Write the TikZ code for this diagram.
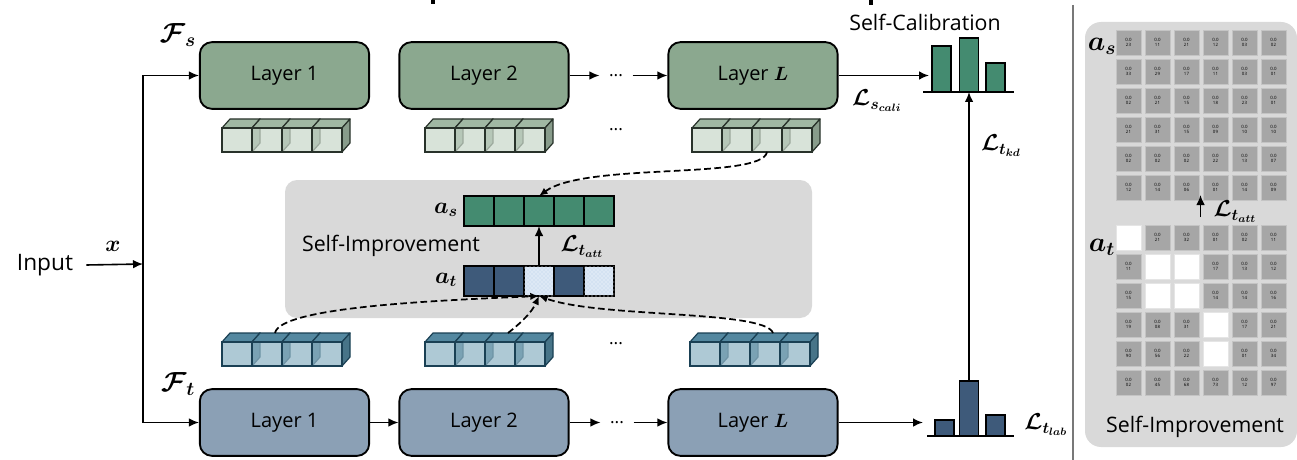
\documentclass[tikz,border=0pt]{standalone}
\usepackage{fontspec}
\setmainfont{Open Sans}
\usepackage{amsmath}
\usepackage{bm}
\usetikzlibrary{arrows.meta,patterns}
\definecolor{sgreen}{RGB}{139,168,143}
\definecolor{tblue}{RGB}{139,160,181}
\definecolor{scube}{RGB}{201,216,202}
\definecolor{scubeside}{RGB}{160,184,163}
\definecolor{sborder}{RGB}{40,50,42}
\definecolor{tcube}{RGB}{143,180,197}
\definecolor{tcubeside}{RGB}{84,136,160}
\definecolor{tborder}{RGB}{26,64,84}
\definecolor{asgreen}{RGB}{68,139,112}
\definecolor{atdark}{RGB}{62,90,122}
\definecolor{atlight}{RGB}{212,226,242}
\definecolor{panel}{RGB}{217,217,217}
\definecolor{cellgray}{RGB}{166,166,166}
\definecolor{cellline}{RGB}{196,196,196}
\definecolor{sepgray}{RGB}{120,120,120}
\newcommand\cubeset[5]{%
  \foreach \i in {0,...,3}{%
    \pgfmathsetmacro\xx{#1+30*\i}%
    \filldraw[fill=#4,draw=#5,line width=0.9pt,line join=round] (\xx,#2)--(\xx+8,#2-9)--(\xx+38,#2-9)--(\xx+30,#2)--cycle;
    \filldraw[fill=#4!85!black,draw=#5,line width=0.9pt,line join=round] (\xx+30,#2)--(\xx+38,#2-9)--(\xx+38,#2+15)--(\xx+30,#2+24)--cycle;
    \filldraw[fill=#3,fill opacity=0.72,draw=#5,line width=0.9pt] (\xx,#2) rectangle (\xx+30,#2+24);
  }}
\begin{document}
\begin{tikzpicture}[x=0.75pt,y=-0.75pt,
  layerS/.style={draw=black,line width=1.4pt,rounded corners=9pt,fill=sgreen,minimum width=127pt,minimum height=50pt,inner sep=0pt,font=\fontsize{15}{18}\selectfont},
  layerT/.style={layerS,fill=tblue},
  arr/.style={-{Latex[length=7.5pt,width=6.5pt]},line width=1.2pt},
  dsh/.style={dash pattern=on 5pt off 2.6pt,line width=1.3pt,-{Latex[length=6.5pt,width=5.5pt]}},
  lbl/.style={font=\fontsize{16}{18}\selectfont,inner sep=0pt},
  mlbl/.style={font=\fontsize{17}{19}\selectfont,inner sep=0pt},
  bigm/.style={font=\fontsize{20}{22}\selectfont,inner sep=0pt},
  dotsn/.style={font=\fontsize{13}{14}\selectfont,inner ysep=1pt,inner xsep=7pt},
  acell/.style={draw=black,line width=1.1pt,minimum width=22.5pt,minimum height=22.5pt,inner sep=0pt,outer sep=0pt},
  gcell/.style={fill=cellgray,draw=cellline,line width=0.4pt,minimum width=18.75pt,minimum height=18.75pt,inner sep=0pt,align=center,font=\fontsize{3.3}{3.8}\selectfont},
  wcell/.style={fill=white,draw=white!90!black,line width=0.4pt,minimum width=18.75pt,minimum height=18.75pt,inner sep=0pt}
]
\useasboundingbox (0,0) rectangle (1297,460);
% title fragments cut off at the top
\fill (431,0) rectangle (435,4);
\fill (869,0) rectangle (873,5);

% ---------- middle gray box ----------
\fill[panel,rounded corners=9pt] (285,180) rectangle (812,318);

% ---------- student row ----------
\node[layerS] (sL1) at (284.5,75.5) {Layer 1};
\node[layerS] (sL2) at (484,75.5) {Layer 2};
\node[layerS] (sLL) at (753,75.5) {Layer $\bm{L}$};
\node[dotsn] (sdots) at (616,75.5) {...};
\draw[arr] (sL2.east) -- (sdots.west);
\draw[arr] (sdots.east) -- (sLL.west);
\node[bigm] (Fs) at (178,35) {$\bm{\mathcal{F}_s}$};

\cubeset{222}{128}{scube}{scubeside}{sborder}
\cubeset{425}{128}{scube}{scubeside}{sborder}
\cubeset{692}{128}{scube}{scubeside}{sborder}
\node[dotsn] (scdots) at (616,130) {...};
\coordinate (sc3) at (767,152);

% ---------- teacher row ----------
\node[layerT] (tL1) at (284.5,422.5) {Layer 1};
\node[layerT] (tL2) at (484,422.5) {Layer 2};
\node[layerT] (tLL) at (753,422.5) {Layer $\bm{L}$};
\node[dotsn] (tdots) at (617,422.5) {...};
\draw[arr] (tL1.east) -- (tL2.west);
\draw[arr] (tL2.east) -- (tdots.west);
\draw[arr] (tdots.east) -- (tLL.west);
\node[bigm] (Ft) at (178,384) {$\bm{\mathcal{F}_t}$};

\cubeset{222}{342}{tcube}{tcubeside}{tborder}
\cubeset{425}{342}{tcube}{tcubeside}{tborder}
\cubeset{690}{342}{tcube}{tcubeside}{tborder}
\node[dotsn] (tcdots) at (616,344) {...};
\coordinate (tc1) at (275,333);
\coordinate (tc2) at (508,333);
\coordinate (tc3) at (773,333);

% ---------- input ----------
\node[lbl,font=\fontsize{17}{19}\selectfont] (inp) at (45,265) {Input};
\coordinate (split) at (143,264);
\node[mlbl] (xl) at (113,246) {$\bm{x}$};
\draw[arr] (inp.east)+(13,0) -- (split);
\draw[arr] (split) |- (sL1.west);
\draw[arr] (split) |- (tL1.west);

% ---------- self-improvement (middle) ----------
\foreach \k in {1,...,5}{
  \node[acell,fill=asgreen] (as\k) at (449+30*\k,211) {};
}
\node[acell,fill=atdark] (at1) at (479,281) {};
\node[acell,fill=atdark] (at2) at (509,281) {};
\node[acell,fill=atlight,postaction={pattern=crosshatch dots,pattern color=white}] (at3) at (539,281) {};
\node[acell,fill=atdark] (at4) at (569,281) {};
\node[acell,fill=atlight,postaction={pattern=crosshatch dots,pattern color=white}] (at5) at (599,281) {};
\node[mlbl] (asl) at (446,210) {$\bm{a_s}$};
\node[mlbl] (atl) at (446,280) {$\bm{a_t}$};
\node[lbl] (simid) at (391,246) {Self-Improvement};
\draw[arr] (at3.north) -- (as3.south);
\node[mlbl] (latt) at (582,247) {$\bm{\mathcal{L}_{t_{att}}}$};

\draw[dsh] (sc3) .. controls (762,180) and (585,162) .. (as3.north);
\draw[dsh] (tc1) .. controls (280,306) and (450,300) .. (at3.south);
\draw[dsh] (tc2) .. controls (522,322) and (532,312) .. (at3.south);
\draw[dsh] (tc3) .. controls (765,310) and (600,318) .. (at3.south);

% ---------- self-calibration histogram ----------
\node[lbl] (scal) at (925,22) {Self-Calibration};
\filldraw[fill=asgreen,draw=black,line width=1.1pt] (932,92) rectangle (951,46);
\filldraw[fill=asgreen,draw=black,line width=1.1pt] (959.5,92) rectangle (978.5,38);
\filldraw[fill=asgreen,draw=black,line width=1.1pt] (986,92) rectangle (1005,63);
\draw[line width=1.2pt] (923,92) -- (1014,92);
\coordinate (hT) at (969,92);
\coordinate (hTw) at (929,75.5);
\draw[arr] (sLL.east) -- (hTw);
\node[mlbl] (lcali) at (877,101) {$\bm{\mathcal{L}_{s_{cali}}}$};

\filldraw[fill=atdark,draw=black,line width=1.1pt] (935,436) rectangle (954,420);
\filldraw[fill=atdark,draw=black,line width=1.1pt] (959.5,436) rectangle (978.5,381);
\filldraw[fill=atdark,draw=black,line width=1.1pt] (986,436) rectangle (1005,415);
\draw[line width=1.2pt] (927,436) -- (1014,436);
\coordinate (hB) at (969,381);
\coordinate (hBw) at (923,422.5);
\draw[arr] (tLL.east) -- (hBw);
\draw[arr] (hB) -- (hT);
\node[mlbl] (lkd) at (1001,146) {$\bm{\mathcal{L}_{t_{kd}}}$};
\node[mlbl] (llab) at (1046,425) {$\bm{\mathcal{L}_{t_{lab}}}$};

% ---------- right panel ----------
\draw[sepgray,line width=1.5pt] (1073,5) -- (1073,460);
\fill[panel,rounded corners=12pt] (1085,22) rectangle (1297,447);
\def\xxmark{xx}
\foreach \r/\vals in {0/{23,11,21,12,03,02},1/{33,29,17,11,03,01},2/{02,21,15,18,23,01},3/{21,31,15,09,10,10},4/{02,02,02,22,13,07},5/{12,14,06,01,14,09}}{
  \foreach \v [count=\c from 0] in \vals {
    \node[gcell] (gs-\r-\c) at (1128.5+29*\c,42.5+29*\r) {0.0\\\v};
  }
}
\foreach \r/\vals in {0/{xx,21,32,01,02,11},1/{11,xx,xx,17,13,12},2/{15,xx,xx,14,14,16},3/{19,08,31,xx,17,21},4/{90,56,22,xx,01,34},5/{02,45,68,73,12,97}}{
  \foreach \v [count=\c from 0] in \vals {
    \ifx\v\xxmark
      \node[wcell] (gt-\r-\c) at (1128.5+29*\c,237.5+29*\r) {};
    \else
      \node[gcell] (gt-\r-\c) at (1128.5+29*\c,237.5+29*\r) {0.0\\\v};
    \fi
  }
}
\node[bigm] (asr) at (1102,46) {$\bm{a_s}$};
\node[bigm] (atr) at (1102,247) {$\bm{a_t}$};
\coordinate (rA) at (1200.5,217);
\coordinate (rB) at (1200.5,195);
\draw[arr] (rA) -- (rB);
\node[mlbl] (lattr) at (1235,212) {$\bm{\mathcal{L}_{t_{att}}}$};
\node[lbl] (siright) at (1195,427) {Self-Improvement};
\end{tikzpicture}
\end{document}
